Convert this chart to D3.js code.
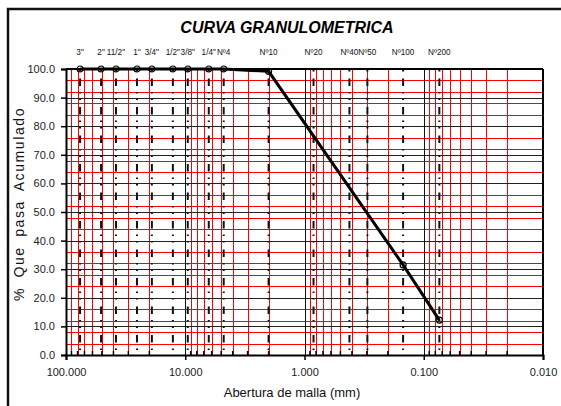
<!DOCTYPE html>
<html>
<head>
<meta charset="utf-8">
<script src="https://cdn.jsdelivr.net/npm/d3@7"></script>
<style>
  html, body { margin: 0; padding: 0; background: #fff; }
  svg { display: block; }
</style>
</head>
<body>
<div id="chart"></div>
<script>
// sieve names, openings (mm) and % passing
const sieveLabels = ['3"', '2"', '11/2"', '1"', '3/4"', '1/2"', '3/8"', '1/4"', 'Nº4', 'Nº10', 'Nº20', 'Nº40', 'Nº50', 'Nº100', 'Nº200']
const sieveOpenings = [76.2, 50.8, 38.1, 25.4, 19.05, 12.7, 9.525, 6.35, 4.76, 2.0, 0.84, 0.42, 0.297, 0.149, 0.074]
const percentPassing = [100, 100, 100, 100, 100, 100, 100, 100, 100, 99.2, null, null, null, 31.5, 12.2]
const xTicks = [100, 10, 1, 0.1, 0.01]
const yTicks = [0, 10, 20, 30, 40, 50, 60, 70, 80, 90, 100]
const yMinorGrid = [4, 8, 12, 16, 24, 28, 32, 36, 44, 48, 52, 56, 64, 68, 72, 76, 84, 88, 92, 96]

const width = 561
const height = 406
const margin = { top: 69, right: 18, bottom: 51, left: 66 }
const innerWidth = width - margin.left - margin.right
const innerHeight = height - margin.top - margin.bottom
const font = '"Liberation Sans", Arial, sans-serif'

const svg = d3.select('#chart')
  .append('svg')
  .attr('width', width)
  .attr('height', height)
  .style('font-family', font)

// outer frame (cropped on right / bottom)
svg.append('rect')
  .attr('x', 8).attr('y', 9)
  .attr('width', 700).attr('height', 600)
  .attr('fill', '#fff')
  .attr('stroke', '#111')
  .attr('stroke-width', 2.5)

const x = d3.scaleLog().domain([100, 0.01]).range([0, innerWidth])
const y = d3.scaleLinear().domain([0, 100]).range([innerHeight, 0])

const g = svg.append('g').attr('transform', `translate(${margin.left},${margin.top})`)

// minor log values (2..9 in each decade)
const minorX = []
xTicks.slice(1).forEach(base => {
  for (let k = 2; k <= 9; k++) minorX.push(base * k)
})

// red grid
g.append('g').selectAll('line').data(minorX).join('line')
  .attr('x1', d => Math.round(x(d)) + 0.5).attr('x2', d => Math.round(x(d)) + 0.5)
  .attr('y1', 0).attr('y2', innerHeight)
  .attr('stroke', '#ff0000').attr('stroke-width', 1)

g.append('g').selectAll('line').data(yMinorGrid).join('line')
  .attr('x1', 0).attr('x2', innerWidth)
  .attr('y1', d => Math.round(y(d)) + 0.5).attr('y2', d => Math.round(y(d)) + 0.5)
  .attr('stroke', '#ff0000').attr('stroke-width', 1)

// black major grid
g.append('g').selectAll('line').data(yTicks.slice(1, -1)).join('line')
  .attr('x1', 0).attr('x2', innerWidth)
  .attr('y1', d => Math.round(y(d)) + 0.5).attr('y2', d => Math.round(y(d)) + 0.5)
  .attr('stroke', '#222').attr('stroke-width', 1)

g.append('g').selectAll('line').data(xTicks.slice(1, -1)).join('line')
  .attr('x1', d => Math.round(x(d)) + 0.5).attr('x2', d => Math.round(x(d)) + 0.5)
  .attr('y1', 0).attr('y2', innerHeight)
  .attr('stroke', '#111').attr('stroke-width', 1)

// sieve lines, long dash - dot - dot
g.append('g').selectAll('line').data(sieveOpenings).join('line')
  .attr('x1', d => x(d)).attr('x2', d => x(d))
  .attr('y1', 0).attr('y2', innerHeight)
  .attr('stroke', '#111').attr('stroke-width', 2)
  .attr('stroke-dasharray', '7.5 6 1.5 5 1.5 7')
  .attr('stroke-dashoffset', -9.5)

// sieve names on top
g.append('g').selectAll('text').data(sieveLabels).join('text')
  .attr('x', (d, i) => x(sieveOpenings[i]))
  .attr('y', -14)
  .attr('text-anchor', 'middle')
  .attr('font-size', 8.2)
  .attr('fill', '#111')
  .text(d => d)

// axes
const yAxis = d3.axisLeft(y).tickValues(yTicks).tickFormat(d3.format('.1f')).tickSize(5).tickPadding(6)
const yg = g.append('g').call(yAxis)
yg.select('.domain').attr('stroke', '#000').attr('stroke-width', 2)
yg.selectAll('.tick line').attr('stroke', '#000').attr('stroke-width', 1.5)
yg.selectAll('text').attr('font-size', 11).attr('fill', '#222').style('font-family', font)

const xAxis = d3.axisBottom(x).tickValues(xTicks).tickFormat(d3.format('.3f')).tickSize(5).tickPadding(8)
const xg = g.append('g').attr('transform', `translate(0,${innerHeight})`).call(xAxis)
xg.select('.domain').attr('stroke', '#000').attr('stroke-width', 2)
xg.selectAll('.tick line').attr('stroke', '#000').attr('stroke-width', 1.5)
xg.selectAll('text').attr('font-size', 11).attr('fill', '#222').style('font-family', font)

// minor inward ticks on x axis
g.append('g').selectAll('line').data(minorX).join('line')
  .attr('x1', d => x(d)).attr('x2', d => x(d))
  .attr('y1', innerHeight).attr('y2', innerHeight - 4)
  .attr('stroke', '#000').attr('stroke-width', 1.5)

// plot frame top / right
g.append('line')
  .attr('x1', 0).attr('x2', innerWidth).attr('y1', 0).attr('y2', 0)
  .attr('stroke', '#000').attr('stroke-width', 2)
g.append('line')
  .attr('x1', innerWidth).attr('x2', innerWidth).attr('y1', 0).attr('y2', innerHeight)
  .attr('stroke', '#000').attr('stroke-width', 2)

// curve
const points = sieveOpenings
  .map((d, i) => ({ size: d, value: percentPassing[i] }))
  .filter(d => d.value != null)

g.append('path')
  .datum(points)
  .attr('d', d3.line().x(d => x(d.size)).y(d => y(d.value)))
  .attr('fill', 'none')
  .attr('stroke', '#000')
  .attr('stroke-width', 3)

g.append('g').selectAll('circle').data(points).join('circle')
  .attr('cx', d => x(d.size))
  .attr('cy', d => y(d.value))
  .attr('r', 3)
  .attr('fill', 'none')
  .attr('stroke', '#000')
  .attr('stroke-width', 1.2)

// titles
svg.append('text')
  .attr('x', 287).attr('y', 33)
  .attr('text-anchor', 'middle')
  .attr('font-size', 16)
  .attr('font-weight', 'bold')
  .attr('font-style', 'italic')
  .attr('fill', '#000')
  .text('CURVA GRANULOMETRICA')

svg.append('text')
  .attr('x', 292).attr('y', 397)
  .attr('text-anchor', 'middle')
  .attr('font-size', 13)
  .attr('fill', '#111')
  .text('Abertura de malla (mm)')

svg.append('text')
  .attr('transform', 'translate(24,204) rotate(-90)')
  .attr('text-anchor', 'middle')
  .attr('font-size', 14)
  .attr('letter-spacing', 1.6)
  .attr('word-spacing', 4)
  .attr('fill', '#111')
  .text('% Que pasa Acumulado')
</script>
</body>
</html>
